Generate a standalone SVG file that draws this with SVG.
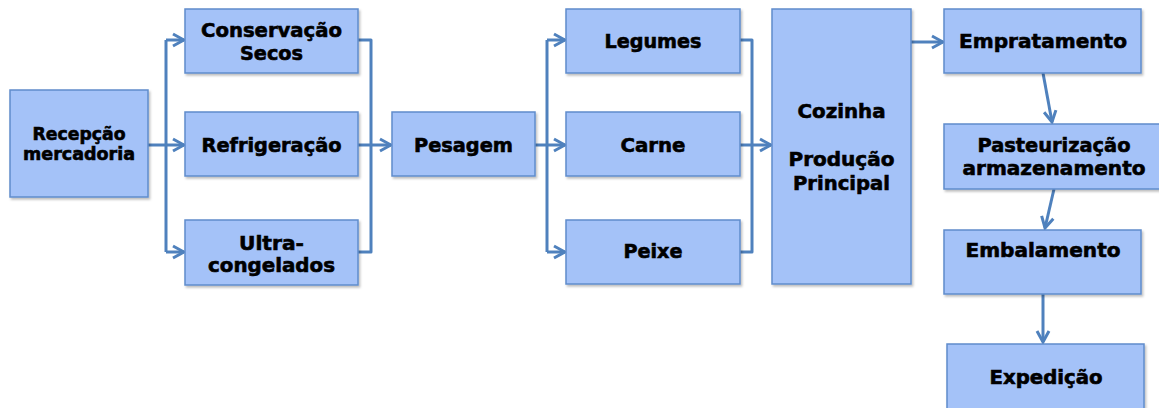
<svg xmlns="http://www.w3.org/2000/svg" width="1159" height="408" viewBox="0 0 1159 408">
  <style>
    .box { fill: #a4c2f8; stroke: #5f8ccc; stroke-width: 1.5; filter: url(#shadow); }
    .lbl { font-family: "DejaVu Sans", Verdana, sans-serif; font-weight: bold; font-size: 19.5px; fill: #000; stroke: #000; stroke-width: 0.6; text-anchor: middle; }
    .sm { font-size: 17.5px; }
    .wire { fill: none; stroke: #4f81bd; stroke-width: 3; stroke-linejoin: round; }
    .arr { marker-end: url(#chev); }
  </style>
  <defs>
    <filter id="shadow" x="-5%" y="-5%" width="115%" height="115%">
      <feDropShadow dx="1.5" dy="2" stdDeviation="1" flood-color="#000" flood-opacity="0.25"/>
    </filter>
    <marker id="chev" markerUnits="userSpaceOnUse" markerWidth="16" markerHeight="16" viewBox="0 0 16 16" refX="14" refY="8" orient="auto">
      <path d="M3,2 L14,8 L3,14" fill="none" stroke="#4f81bd" stroke-width="3" stroke-linejoin="miter"/>
    </marker>
  </defs>

  <rect width="1159" height="408" fill="#fff"/>

  <!-- connectors -->
  <g id="connectors">
    <!-- reception fan-out -->
    <path class="wire" d="M148,145 H166"/>
    <path class="wire" d="M166,40 V252"/>
    <path class="wire arr" d="M166,40 H184"/>
    <path class="wire arr" d="M166,145 H184"/>
    <path class="wire arr" d="M166,252 H184"/>
    <!-- storage fan-in -->
    <path class="wire" d="M358,40 H371 V252 H358"/>
    <path class="wire arr" d="M358,145 H391"/>
    <!-- weighing fan-out -->
    <path class="wire" d="M535,145 H547"/>
    <path class="wire" d="M547,40 V252"/>
    <path class="wire arr" d="M547,40 H565"/>
    <path class="wire arr" d="M547,145 H565"/>
    <path class="wire arr" d="M547,252 H565"/>
    <!-- ingredients fan-in -->
    <path class="wire" d="M740,40 H752 V252 H740"/>
    <path class="wire arr" d="M740,145 H771"/>
    <!-- production line -->
    <path class="wire arr" d="M911,42 H943"/>
    <path class="wire arr" d="M1043,73 L1052,122"/>
    <path class="wire arr" d="M1054,189 L1045,228"/>
    <path class="wire arr" d="M1043,294 V342"/>
  </g>

  <g id="rececao">
    <rect class="box" x="10" y="90" width="138" height="107"/>
    <text class="lbl sm" x="79" y="140" textLength="93" lengthAdjust="spacingAndGlyphs">Recepção</text>
    <text class="lbl sm" x="79" y="160" textLength="112" lengthAdjust="spacingAndGlyphs">mercadoria</text>
  </g>

  <g id="conservacao">
    <rect class="box" x="185" y="9" width="173" height="64"/>
    <text class="lbl" x="271.5" y="37" textLength="141" lengthAdjust="spacingAndGlyphs">Conservação</text>
    <text class="lbl" x="271.5" y="60" textLength="63" lengthAdjust="spacingAndGlyphs">Secos</text>
  </g>

  <g id="refrigeracao">
    <rect class="box" x="185" y="112" width="173" height="64"/>
    <text class="lbl" x="271.5" y="152" textLength="140" lengthAdjust="spacingAndGlyphs">Refrigeração</text>
  </g>

  <g id="ultracongelados">
    <rect class="box" x="185" y="220" width="173" height="65"/>
    <text class="lbl" x="271.5" y="250" textLength="65" lengthAdjust="spacingAndGlyphs">Ultra-</text>
    <text class="lbl" x="271.5" y="272" textLength="127" lengthAdjust="spacingAndGlyphs">congelados</text>
  </g>

  <g id="pesagem">
    <rect class="box" x="392" y="112" width="143" height="64"/>
    <text class="lbl" x="463.5" y="152" textLength="99" lengthAdjust="spacingAndGlyphs">Pesagem</text>
  </g>

  <g id="legumes">
    <rect class="box" x="566" y="9" width="174" height="64"/>
    <text class="lbl" x="653" y="48" textLength="97" lengthAdjust="spacingAndGlyphs">Legumes</text>
  </g>

  <g id="carne">
    <rect class="box" x="566" y="112" width="174" height="64"/>
    <text class="lbl" x="653" y="152" textLength="65" lengthAdjust="spacingAndGlyphs">Carne</text>
  </g>

  <g id="peixe">
    <rect class="box" x="566" y="220" width="174" height="64"/>
    <text class="lbl" x="653" y="258" textLength="59" lengthAdjust="spacingAndGlyphs">Peixe</text>
  </g>

  <g id="cozinha">
    <rect class="box" x="772" y="9" width="139" height="275"/>
    <text class="lbl" x="841.5" y="118" textLength="88" lengthAdjust="spacingAndGlyphs">Cozinha</text>
    <text class="lbl" x="841.5" y="166" textLength="106" lengthAdjust="spacingAndGlyphs">Produção</text>
    <text class="lbl" x="841.5" y="190" textLength="97" lengthAdjust="spacingAndGlyphs">Principal</text>
  </g>

  <g id="empratamento">
    <rect class="box" x="944" y="9" width="197" height="64"/>
    <text class="lbl" x="1043" y="48" textLength="168" lengthAdjust="spacingAndGlyphs">Empratamento</text>
  </g>

  <g id="pasteurizacao">
    <rect class="box" x="944" y="124" width="220" height="65"/>
    <text class="lbl" x="1054" y="152" textLength="153" lengthAdjust="spacingAndGlyphs">Pasteurização</text>
    <text class="lbl" x="1054" y="175" textLength="183" lengthAdjust="spacingAndGlyphs">armazenamento</text>
  </g>

  <g id="embalamento">
    <rect class="box" x="944" y="230" width="197" height="64"/>
    <text class="lbl" x="1043" y="257" textLength="155" lengthAdjust="spacingAndGlyphs">Embalamento</text>
  </g>

  <g id="expedicao">
    <rect class="box" x="947" y="344" width="197" height="70"/>
    <text class="lbl" x="1046" y="384" textLength="113" lengthAdjust="spacingAndGlyphs">Expedição</text>
  </g>
</svg>
